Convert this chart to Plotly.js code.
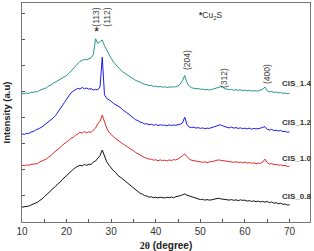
<!DOCTYPE html>
<html>
<head>
<meta charset="utf-8">
<script src="https://cdn.plot.ly/plotly-3.0.1.min.js"></script>
<style>
  html, body { margin: 0; padding: 0; background: #fff; }
  #chart { width: 314px; height: 251px; }
</style>
</head>
<body>
<div id="chart"></div>
<script>
// Diffraction angle 2θ (degree), 0.5° steps
const twoTheta = [
  10, 10.5, 11, 11.5, 12, 12.5, 13, 13.5, 14, 14.5, 15, 15.5, 16, 16.5, 17, 17.5, 18, 18.5, 19, 19.5,
  20, 20.5, 21, 21.5, 22, 22.5, 23, 23.5, 24, 24.5, 25, 25.5, 26, 26.5, 27, 27.5, 28, 28.5, 29, 29.5,
  30, 30.5, 31, 31.5, 32, 32.5, 33, 33.5, 34, 34.5, 35, 35.5, 36, 36.5, 37, 37.5, 38, 38.5, 39, 39.5,
  40, 40.5, 41, 41.5, 42, 42.5, 43, 43.5, 44, 44.5, 45, 45.5, 46, 46.5, 47, 47.5, 48, 48.5, 49, 49.5,
  50, 50.5, 51, 51.5, 52, 52.5, 53, 53.5, 54, 54.5, 55, 55.5, 56, 56.5, 57, 57.5, 58, 58.5, 59, 59.5,
  60, 60.5, 61, 61.5, 62, 62.5, 63, 63.5, 64, 64.5, 65, 65.5, 66, 66.5, 67, 67.5, 68, 68.5, 69, 69.5,
  70
];

// Stacked intensities (a.u.), each pattern offset vertically
const cis08 = [
  0.57, 0.58, 0.60, 0.61, 0.65, 0.68, 0.73, 0.76, 0.83, 0.88, 0.97, 1.04, 1.13, 1.20, 1.30, 1.36, 1.46, 1.52, 1.62, 1.70,
  1.80, 1.88, 1.97, 2.02, 2.09, 2.14, 2.18, 2.15, 2.21, 2.17, 2.22, 2.20, 2.30, 2.34, 2.47, 2.55, 2.76, 2.52, 2.31, 2.18,
  2.07, 1.97, 1.90, 1.79, 1.73, 1.66, 1.58, 1.50, 1.45, 1.36, 1.30, 1.22, 1.17, 1.10, 1.07, 1.01, 1.00, 0.95, 0.97, 0.93,
  0.95, 0.92, 0.95, 0.93, 0.92, 0.95, 0.93, 0.96, 0.93, 0.97, 0.98, 1.01, 1.04, 1.08, 1.03, 1.00, 0.96, 0.94, 0.90, 0.88,
  0.86, 0.87, 0.84, 0.86, 0.84, 0.85, 0.87, 0.90, 0.91, 0.89, 0.88, 0.86, 0.87, 0.84, 0.86, 0.83, 0.85, 0.82, 0.85, 0.83,
  0.84, 0.80, 0.82, 0.79, 0.81, 0.78, 0.80, 0.77, 0.79, 0.76, 0.79, 0.74, 0.77, 0.72, 0.74, 0.70, 0.72, 0.68, 0.69, 0.65,
  0.66
];

const cis10 = [
  2.18, 2.16, 2.19, 2.17, 2.21, 2.22, 2.25, 2.24, 2.30, 2.33, 2.39, 2.42, 2.50, 2.55, 2.64, 2.70, 2.79, 2.85, 2.94, 2.99,
  3.07, 3.13, 3.21, 3.25, 3.33, 3.37, 3.44, 3.41, 3.47, 3.42, 3.46, 3.44, 3.52, 3.60, 3.78, 3.86, 4.10, 3.82, 3.60, 3.45,
  3.34, 3.27, 3.20, 3.13, 3.08, 3.01, 2.96, 2.89, 2.85, 2.78, 2.74, 2.66, 2.62, 2.56, 2.53, 2.47, 2.45, 2.41, 2.41, 2.37,
  2.39, 2.35, 2.38, 2.36, 2.37, 2.34, 2.38, 2.36, 2.39, 2.38, 2.42, 2.47, 2.54, 2.61, 2.50, 2.42, 2.37, 2.35, 2.33, 2.31,
  2.30, 2.29, 2.31, 2.28, 2.30, 2.31, 2.33, 2.36, 2.38, 2.37, 2.36, 2.33, 2.34, 2.31, 2.32, 2.29, 2.31, 2.28, 2.30, 2.27,
  2.30, 2.26, 2.28, 2.25, 2.27, 2.24, 2.26, 2.25, 2.30, 2.41, 2.28, 2.22, 2.24, 2.20, 2.21, 2.18, 2.19, 2.16, 2.17, 2.13,
  2.14
];

const cis12 = [
  3.38, 3.36, 3.40, 3.39, 3.45, 3.47, 3.52, 3.55, 3.60, 3.65, 3.72, 3.77, 3.86, 3.90, 3.99, 4.08, 4.20, 4.30, 4.46, 4.58,
  4.71, 4.85, 4.96, 5.02, 5.07, 5.13, 5.10, 5.16, 5.11, 5.14, 5.09, 5.12, 5.06, 5.09, 5.07, 5.18, 6.32, 4.88, 4.74, 4.69,
  4.63, 4.55, 4.51, 4.44, 4.40, 4.32, 4.27, 4.19, 4.13, 4.05, 4.00, 3.92, 3.89, 3.83, 3.81, 3.76, 3.77, 3.73, 3.75, 3.71,
  3.74, 3.70, 3.73, 3.71, 3.72, 3.69, 3.73, 3.70, 3.72, 3.71, 3.73, 3.75, 3.80, 4.02, 3.74, 3.64, 3.62, 3.64, 3.60, 3.62,
  3.59, 3.61, 3.58, 3.60, 3.59, 3.62, 3.63, 3.66, 3.70, 3.73, 3.69, 3.65, 3.63, 3.61, 3.64, 3.60, 3.62, 3.59, 3.61, 3.58,
  3.60, 3.57, 3.60, 3.56, 3.59, 3.57, 3.58, 3.60, 3.63, 3.66, 3.55, 3.53, 3.55, 3.51, 3.52, 3.49, 3.51, 3.47, 3.48, 3.44,
  3.46
];

const cis14 = [
  4.94, 4.92, 4.95, 4.93, 4.97, 4.98, 5.01, 5.00, 5.05, 5.08, 5.13, 5.15, 5.22, 5.25, 5.32, 5.37, 5.44, 5.47, 5.53, 5.56,
  5.62, 5.70, 5.80, 5.88, 6.00, 6.08, 6.16, 6.20, 6.24, 6.22, 6.27, 6.30, 6.42, 7.03, 6.85, 6.90, 6.98, 6.76, 6.58, 6.42,
  6.28, 6.14, 6.03, 5.94, 5.85, 5.77, 5.71, 5.64, 5.60, 5.53, 5.49, 5.43, 5.40, 5.35, 5.33, 5.28, 5.27, 5.23, 5.24, 5.20,
  5.21, 5.18, 5.20, 5.17, 5.19, 5.16, 5.18, 5.17, 5.19, 5.18, 5.22, 5.30, 5.42, 5.62, 5.35, 5.21, 5.15, 5.13, 5.11, 5.12,
  5.09, 5.10, 5.07, 5.09, 5.06, 5.08, 5.10, 5.13, 5.16, 5.19, 5.17, 5.12, 5.10, 5.07, 5.09, 5.05, 5.08, 5.05, 5.07, 5.04,
  5.06, 5.03, 5.05, 5.02, 5.04, 5.02, 5.03, 5.05, 5.09, 5.18, 5.03, 4.99, 5.01, 4.97, 4.98, 4.95, 4.97, 4.93, 4.95, 4.92,
  4.94
];

const sampleNames = ['CIS_0.8', 'CIS_1.0', 'CIS_1.2', 'CIS_1.4'];
const sampleColors = ['#111111', '#e4262b', '#1a1ae6', '#23968a'];
const sampleSeries = [cis08, cis10, cis12, cis14];

// Miller indices of the reflections
const hklLabels = ['(113)', '(112)', '(204)', '(312)', '(400)'];

const traces = sampleSeries.map((ys, i) => ({
  type: 'scatter',
  mode: 'lines',
  x: twoTheta,
  y: ys,
  name: sampleNames[i],
  line: { color: sampleColors[i], width: 1 },
  hoverinfo: 'skip'
}));

const labelFont = { family: 'Liberation Sans, Arial, sans-serif', size: 8, color: '#333' };
const hklFont = { family: 'Liberation Sans, Arial, sans-serif', size: 8.5, color: '#444' };

const annotations = [];

// sample names at the right end of each pattern
const nameY = [0.96, 2.45, 3.83, 5.33];
sampleNames.forEach((n, i) => {
  annotations.push({
    x: 67.8, y: nameY[i], xref: 'x', yref: 'y', text: '<b>' + n + '</b>',
    showarrow: false, xanchor: 'left', yanchor: 'middle', font: labelFont
  });
});

// reflection indices (turned to read bottom-to-top once drawn)
const hklStart = annotations.length;
const hklPos = [[26.4, 7.85], [29.0, 7.85], [47.0, 6.2], [55.3, 5.52], [64.9, 5.67]];
hklLabels.forEach((t, i) => {
  annotations.push({
    x: hklPos[i][0], y: hklPos[i][1], xref: 'x', yref: 'y', text: t,
    showarrow: false, xanchor: 'center', yanchor: 'middle', font: hklFont
  });
});

// Cu2S marker over the (113) peak and its key
annotations.push({
  x: 26.6, y: 7.3, xref: 'x', yref: 'y', text: '*', showarrow: false,
  font: { family: 'Liberation Sans, Arial, sans-serif', size: 13, color: '#111' }
});
annotations.push({
  x: 52.5, y: 7.93, xref: 'x', yref: 'y', text: '<b>*</b>Cu<sub>2</sub>S', showarrow: false,
  font: { family: 'Liberation Sans, Arial, sans-serif', size: 8.5, color: '#333' }
});

const layout = {
  width: 314,
  height: 251,
  margin: { l: 22, r: 4, t: 3, b: 29 },
  paper_bgcolor: '#ffffff',
  plot_bgcolor: '#ffffff',
  showlegend: false,
  xaxis: {
    range: [10, 74.6],
    tick0: 10,
    dtick: 10,
    ticks: 'inside',
    ticklen: 3,
    tickcolor: '#555',
    minor: { dtick: 5, ticks: 'inside', ticklen: 3, tickcolor: '#555' },
    showline: true,
    mirror: true,
    linecolor: '#777',
    linewidth: 1,
    showgrid: false,
    zeroline: false,
    tickfont: { family: 'Liberation Sans, Arial, sans-serif', size: 10, color: '#333' },
    title: {
      text: '<b><span style="font-family:Liberation Serif, Times New Roman, serif">2θ</span> (degree)</b>',
      font: { family: 'Liberation Sans, Arial, sans-serif', size: 10, color: '#222' },
      standoff: 9
    }
  },
  yaxis: {
    range: [0, 8.4],
    tick0: 0,
    dtick: 1,
    ticks: 'inside',
    ticklen: 3,
    tickcolor: '#555',
    showticklabels: false,
    showline: true,
    mirror: true,
    linecolor: '#777',
    linewidth: 1,
    showgrid: false,
    zeroline: false,
    title: {
      text: '<b>Intensity (a.u)</b>',
      font: { family: 'Liberation Sans, Arial, sans-serif', size: 9.5, color: '#222' },
      standoff: 8
    }
  },
  annotations: annotations
};

Plotly.newPlot('chart', traces, layout, { staticPlot: true, displayModeBar: false }).then(gd => {
  // turn the Miller-index labels so they read bottom-to-top
  gd.querySelectorAll('g.annotation').forEach(g => {
    const idx = +g.getAttribute('data-index');
    if (idx < hklStart || idx >= hklStart + hklLabels.length) return;
    const txt = g.querySelector('text.annotation-text');
    if (!txt) return;
    const b = txt.getBBox();
    const cx = b.x + b.width / 2;
    const cy = b.y + b.height / 2;
    const prev = txt.getAttribute('transform') || '';
    txt.setAttribute('transform', prev + ' rotate(-90 ' + cx + ' ' + cy + ')');
  });
});
</script>
</body>
</html>
